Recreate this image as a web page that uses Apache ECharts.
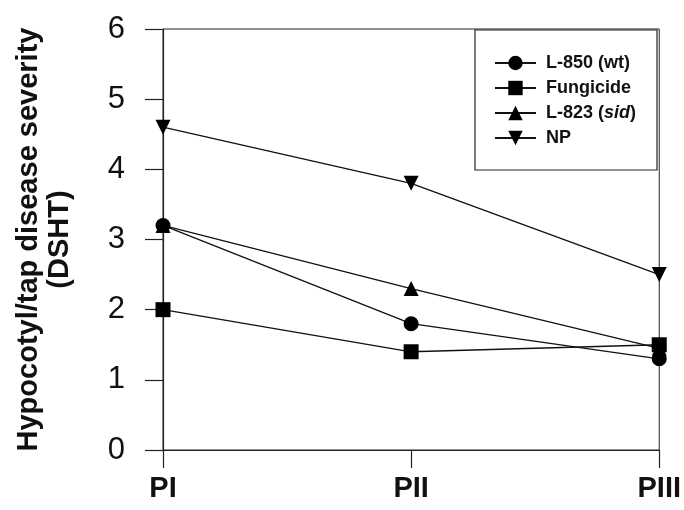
<!DOCTYPE html>
<html>
<head>
<meta charset="utf-8">
<script src="https://cdn.jsdelivr.net/npm/echarts@6/dist/echarts.min.js"></script>
<style>
  html, body { margin: 0; padding: 0; background: #fff; }
  #chart { width: 684px; height: 510px; }
</style>
</head>
<body>
<div id="chart"></div>
<script>
// Sampling periods on the x axis
const periods = ['PI', 'PII', 'PIII'];

// Mean hypocotyl/taproot disease severity per treatment
const l850 = [3.2, 1.8, 1.3];
const fungicide = [2.0, 1.4, 1.5];
const l823 = [3.2, 2.3, 1.45];
const np = [4.6, 3.8, 2.5];

const yTicks = [0, 1, 2, 3, 4, 5, 6];

const FONT = '"Liberation Sans", Arial, sans-serif';

function series(name, data, symbol, rotate) {
  return {
    name: name,
    type: 'line',
    data: data,
    symbol: symbol,
    symbolSize: 15,
    symbolRotate: rotate || 0,
    lineStyle: { color: '#111', width: 1.3 },
    itemStyle: { color: '#000' },
    emphasis: { disabled: true },
    animation: false
  };
}

const chart = echarts.init(document.getElementById('chart'));
chart.setOption({
  backgroundColor: '#fff',
  animation: false,
  grid: {
    left: 163, right: 20, top: 29, bottom: 60,
    show: true, borderColor: '#222', borderWidth: 1
  },
  legend: {
    right: 27, top: 30,
    orient: 'vertical',
    padding: [24, 21, 23, 19],
    itemGap: 7,
    itemWidth: 41,
    itemHeight: 18,
    borderColor: '#222',
    borderWidth: 1.2,
    backgroundColor: '#fff',
    textStyle: { fontFamily: FONT, fontWeight: 'bold', fontSize: 18, color: '#111', lineHeight: 18,
      padding: [0, 0, 0, 5],
      rich: { i: { fontFamily: FONT, fontWeight: 'bold', fontStyle: 'italic', fontSize: 18, color: '#111', lineHeight: 18 } } },
    formatter: function (n) {
      return n === 'L-823 (sid)' ? 'L-823 ({i|sid})' : n;
    },
    data: ['L-850 (wt)', 'Fungicide', 'L-823 (sid)', 'NP']
  },
  xAxis: {
    type: 'category',
    data: periods,
    boundaryGap: false,
    axisLine: { lineStyle: { color: '#222', width: 1.2 } },
    axisTick: { show: true, length: 18, inside: false, lineStyle: { color: '#222', width: 1.2 } },
    axisLabel: { margin: 24, fontFamily: FONT, fontWeight: 'bold', fontSize: 29, color: '#111' },
    splitLine: { show: false }
  },
  yAxis: {
    type: 'value',
    min: yTicks[0], max: yTicks[yTicks.length - 1], interval: 1,
    name: 'Hypocotyl/tap disease severity\n(DSHT)',
    nameLocation: 'middle',
    nameRotate: 90,
    nameGap: 88,
    nameTextStyle: { fontFamily: FONT, fontWeight: 'bold', fontSize: 29, color: '#111', lineHeight: 31 },
    axisLine: { show: true, lineStyle: { color: '#222', width: 1.2 } },
    axisTick: { show: true, length: 18, lineStyle: { color: '#222', width: 1.2 } },
    axisLabel: { margin: 38, fontFamily: FONT, fontSize: 31, color: '#111' },
    splitLine: { show: false }
  },
  series: [
    series('L-850 (wt)', l850, 'circle'),
    series('Fungicide', fungicide, 'rect'),
    series('L-823 (sid)', l823, 'triangle'),
    series('NP', np, 'triangle', 180)
  ]
});
</script>
</body>
</html>
